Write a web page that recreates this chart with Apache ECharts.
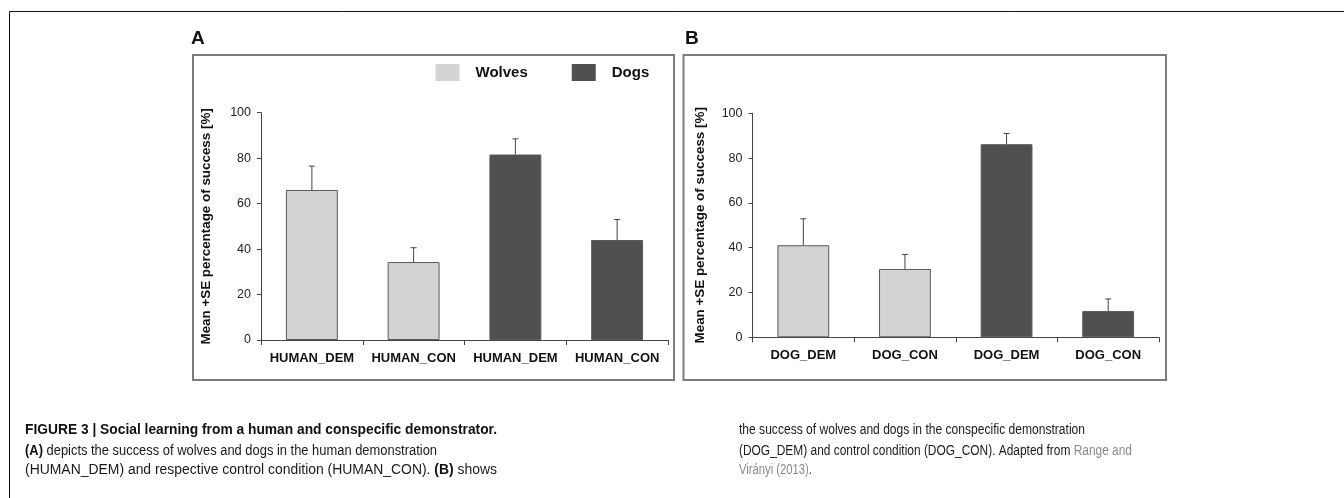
<!DOCTYPE html>
<html>
<head>
<meta charset="utf-8">
<script src="https://cdn.jsdelivr.net/npm/echarts@6/dist/echarts.min.js"></script>
<style>
html,body{margin:0;padding:0;background:#fff;}
#chart{width:1344px;height:498px;}
</style>
</head>
<body>
<div id="chart"></div>
<script>
// ---- data ----
const seriesNames = ['Wolves', 'Dogs'];
const categoriesA = ['HUMAN_DEM', 'HUMAN_CON', 'HUMAN_DEM', 'HUMAN_CON'];
const wolvesA = [66, 34.3, null, null];
const dogsA = [null, null, 81.6, 44];
const seA = [10.5, 6.3, 6.9, 9];
const categoriesB = ['DOG_DEM', 'DOG_CON', 'DOG_DEM', 'DOG_CON'];
const wolvesB = [41.1, 30.5, null, null];
const dogsB = [null, null, 86.2, 11.7];
const seB = [11.8, 6.5, 4.8, 5.4];
const yTicks = [0, 20, 40, 60, 80, 100];
const yTitle = 'Mean +SE percentage of success [%]';
const panelLabels = ['A', 'B'];

const FONT = '"Liberation Sans", Arial, Helvetica, sans-serif';
const WOLF = '#d3d3d3', DOG = '#505050', EDGE = '#595959', AXIS = '#444444';

const chart = echarts.init(document.getElementById('chart'), null, {renderer: 'canvas'});

function toData(arr) { return arr.map(v => v == null ? '-' : v); }
function errData(w, d, se) {
  return se.map((s, i) => [i, (w[i] != null ? w[i] : d[i]), s]);
}

function xAxisCfg(gi, cats) {
  return {
    gridIndex: gi, type: 'category', data: cats,
    axisLine: {show: true, lineStyle: {color: AXIS, width: 1}},
    axisTick: {show: true, length: 5, alignWithLabel: false, lineStyle: {color: AXIS}},
    axisLabel: {interval: 0, margin: 12, color: '#111', fontFamily: FONT, fontWeight: 'bold', fontSize: 13}
  };
}
function yAxisCfg(gi, gap) {
  return {
    gridIndex: gi, type: 'value', min: yTicks[0], max: yTicks[yTicks.length - 1],
    interval: yTicks[1] - yTicks[0],
    axisLine: {show: true, lineStyle: {color: AXIS, width: 1}},
    axisTick: {show: true, length: 4, lineStyle: {color: AXIS}},
    splitLine: {show: false},
    axisLabel: {margin: 10, color: '#222', fontFamily: FONT, fontSize: 12.5},
    name: yTitle, nameLocation: 'middle', nameGap: gap, nameRotate: 90,
    nameTextStyle: {color: '#111', fontFamily: FONT, fontWeight: 'bold', fontSize: 13.4}
  };
}
function barSeries(name, data, idx, color) {
  return {
    name: name, type: 'bar', xAxisIndex: idx, yAxisIndex: idx,
    data: toData(data), barWidth: '51%', barGap: '-100%',
    itemStyle: {color: color, borderColor: EDGE, borderWidth: 1},
    emphasis: {disabled: true}, z: 2
  };
}
function errSeries(data, idx) {
  return {
    type: 'custom', xAxisIndex: idx, yAxisIndex: idx, data: data, z: 5, silent: true,
    renderItem: function (params, api) {
      const x = api.value(0), m = api.value(1), s = api.value(2);
      const p0 = api.coord([x, m]);
      const p1 = api.coord([x, m + s]);
      const st = {stroke: '#444', lineWidth: 1};
      return {type: 'group', children: [
        {type: 'line', shape: {x1: p0[0], y1: p0[1], x2: p1[0], y2: p1[1]}, style: st},
        {type: 'line', shape: {x1: p1[0] - 3, y1: p1[1], x2: p1[0] + 3, y2: p1[1]}, style: st}
      ]};
    }
  };
}

// caption measurement for condensed look
const cv = document.createElement('canvas').getContext('2d');
function segWidth(segs, size) {
  let w = 0;
  segs.forEach(s => {
    cv.font = (s[1] ? 'bold ' : '') + size + 'px ' + FONT;
    w += cv.measureText(s[0]).width;
  });
  return w;
}
const CAP_SIZE = 14;
const captionLines = [
  {x: 25, y: 430.5, w: 472, segs: [['FIGURE 3 | Social learning from a human and conspecific demonstrator.', 'b']]},
  {x: 25, y: 451, w: 412, segs: [['(A)', 'b'], [' depicts the success of wolves and dogs in the human demonstration', 'r']]},
  {x: 25, y: 470.5, w: 472, segs: [['(HUMAN_DEM) and respective control condition (HUMAN_CON). ', 'r'], ['(B)', 'b'], [' shows', 'r']]},
  {x: 739, y: 430.5, w: 346, segs: [['the success of wolves and dogs in the conspecific demonstration', 'r']]},
  {x: 739, y: 451, w: 393, segs: [['(DOG_DEM) and control condition (DOG_CON). Adapted from ', 'r'], ['Range and', 'g']]},
  {x: 739, y: 470.5, w: 73, segs: [['Virányi (2013)', 'g'], ['.', 'r']]}
];
const rich = {
  b: {fontFamily: FONT, fontSize: CAP_SIZE, fontWeight: 'bold', fill: '#111'},
  r: {fontFamily: FONT, fontSize: CAP_SIZE, fontWeight: 'normal', fill: '#1a1a1a'},
  g: {fontFamily: FONT, fontSize: CAP_SIZE, fontWeight: 'normal', fill: '#8a8a8a'}
};
const captionGraphics = captionLines.map(l => {
  const mw = segWidth(l.segs.map(s => [s[0], s[1] === 'b']), CAP_SIZE);
  return {
    type: 'text', x: l.x, y: l.y, scaleX: l.w / mw, originX: 0, originY: 0, silent: true,
    style: {
      text: l.segs.map(s => '{' + s[1] + '|' + s[0] + '}').join(''),
      rich: rich, verticalAlign: 'middle', align: 'left',
      fontFamily: FONT, fontSize: CAP_SIZE, fill: '#111'
    }
  };
});

const option = {
  animation: false,
  backgroundColor: '#ffffff',
  grid: [
    {left: 261, right: 1344 - 668, top: 112.7, bottom: 498 - 340},
    {left: 752.5, right: 1344 - 1159, top: 113.3, bottom: 498 - 337.3}
  ],
  legend: {
    data: seriesNames, left: 435.5, top: 64, icon: 'rect', padding: 0,
    itemWidth: 24, itemHeight: 17, itemGap: 44,
    itemStyle: {borderWidth: 0},
    selectedMode: false,
    textStyle: {fontFamily: FONT, fontWeight: 'bold', fontSize: 15, color: '#111', padding: [0, 0, 0, 11]}
  },
  xAxis: [xAxisCfg(0, categoriesA), xAxisCfg(1, categoriesB)],
  yAxis: [yAxisCfg(0, 48), yAxisCfg(1, 45.5)],
  series: [
    barSeries(seriesNames[0], wolvesA, 0, WOLF),
    barSeries(seriesNames[1], dogsA, 0, DOG),
    barSeries(seriesNames[0], wolvesB, 1, WOLF),
    barSeries(seriesNames[1], dogsB, 1, DOG),
    errSeries(errData(wolvesA, dogsA, seA), 0),
    errSeries(errData(wolvesB, dogsB, seB), 1)
  ],
  graphic: [
    {type: 'rect', silent: true, z: -1, shape: {x: 9.5, y: 11.5, width: 1400, height: 600},
      style: {fill: 'none', stroke: '#111', lineWidth: 1}},
    {type: 'rect', silent: true, z: -1, shape: {x: 193, y: 55, width: 481, height: 325},
      style: {fill: 'none', stroke: '#7d7d7d', lineWidth: 2}},
    {type: 'rect', silent: true, z: -1, shape: {x: 683.5, y: 55, width: 482.5, height: 325},
      style: {fill: 'none', stroke: '#7d7d7d', lineWidth: 2}},
    {type: 'text', x: 191, y: 39, silent: true,
      style: {text: panelLabels[0], fontFamily: FONT, fontWeight: 'bold', fontSize: 19, fill: '#111', verticalAlign: 'middle'}},
    {type: 'text', x: 685, y: 39, silent: true,
      style: {text: panelLabels[1], fontFamily: FONT, fontWeight: 'bold', fontSize: 19, fill: '#111', verticalAlign: 'middle'}}
  ].concat(captionGraphics)
};
chart.setOption(option);
</script>
</body>
</html>
